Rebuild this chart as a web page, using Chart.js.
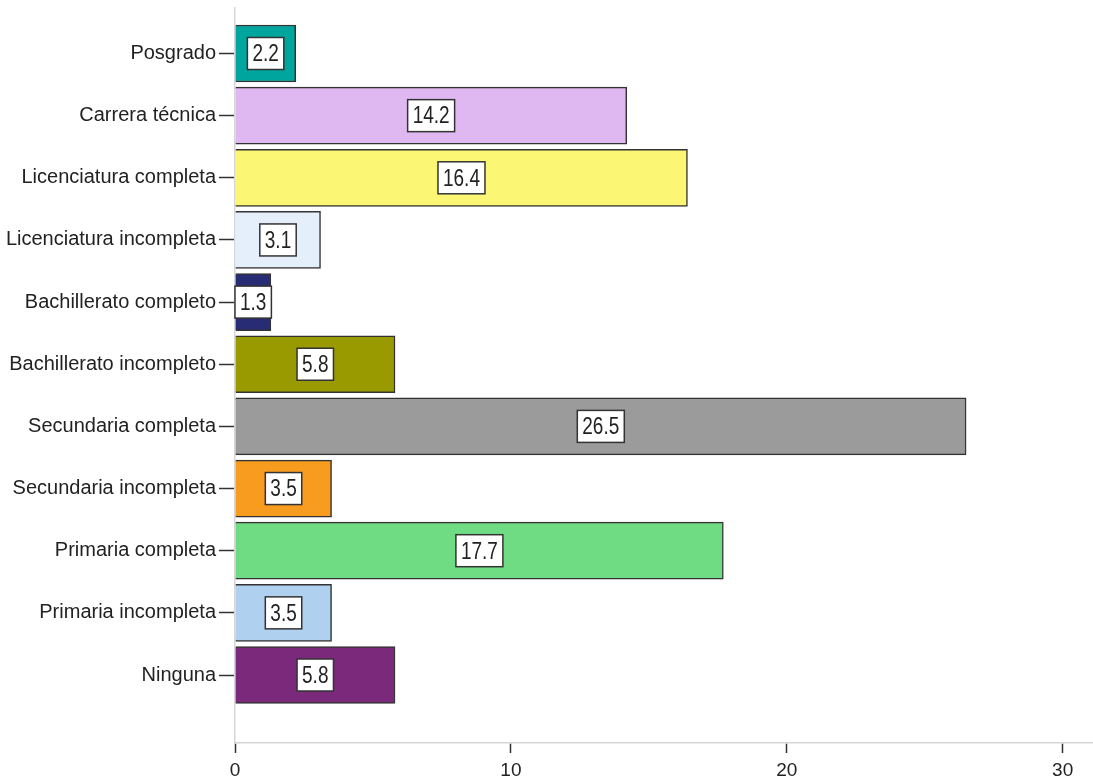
<!DOCTYPE html>
<html>
<head>
<meta charset="utf-8">
<script src="https://cdn.jsdelivr.net/npm/chart.js"></script>
<style>
    html, body { margin: 0; padding: 0; background: #fff; }
    #wrap { width: 1093px; height: 784px; }
</style>
</head>
<body>
<div id="wrap"><canvas id="nivelChart"></canvas></div>
<script>
// datos
const categorias = ['Posgrado', 'Carrera técnica', 'Licenciatura completa', 'Licenciatura incompleta',
    'Bachillerato completo', 'Bachillerato incompleto', 'Secundaria completa', 'Secundaria incompleta',
    'Primaria completa', 'Primaria incompleta', 'Ninguna'];
const porcentajes = [2.2, 14.2, 16.4, 3.1, 1.3, 5.8, 26.5, 3.5, 17.7, 3.5, 5.8];
const colores = ['#00a59e', '#dfb8f1', '#fbf673', '#e5effb', '#272c74', '#999a00',
    '#9b9b9b', '#f89c20', '#6fdc83', '#afd0ef', '#7b2a7b'];
const ticksX = [0, 10, 20, 30];

const fuente = "'Liberation Sans', Arial, sans-serif";

// etiquetas blancas con borde dentro de cada barra
const etiquetasBarras = {
    id: 'etiquetasBarras',
    afterDatasetsDraw(chart) {
        const ctx = chart.ctx;
        const meta = chart.getDatasetMeta(0);
        meta.data.forEach((bar, i) => {
            const texto = porcentajes[i].toFixed(1);
            const cx = (bar.base + bar.x) / 2;
            const cy = bar.y;
            ctx.save();
            ctx.font = '19px ' + fuente;
            const w = ctx.measureText(texto).width + 10;
            const h = 32;
            ctx.fillStyle = '#ffffff';
            ctx.fillRect(cx - w / 2, cy - h / 2, w, h);
            ctx.lineWidth = 1.5;
            ctx.strokeStyle = '#333333';
            ctx.strokeRect(cx - w / 2, cy - h / 2, w, h);
            ctx.fillStyle = '#222222';
            ctx.textAlign = 'center';
            ctx.textBaseline = 'middle';
            ctx.translate(cx, cy + 1);
            ctx.scale(1, 1.3);
            ctx.fillText(texto, 0, 0);
            ctx.restore();
        });
    }
};

const ctx = document.getElementById('nivelChart').getContext('2d');
const grafico = new Chart(ctx, {
    type: 'bar',
    data: {
        datasets: [{
            data: porcentajes.map((v, i) => ({ x: v, y: i })),
            backgroundColor: colores,
            borderColor: '#333333',
            borderWidth: 1.5,
            barThickness: 57
        }]
    },
    options: {
        indexAxis: 'y',
        responsive: true,
        maintainAspectRatio: false,
        animation: false,
        layout: { padding: { top: 8, right: 0, bottom: 0, left: 0 } },
        plugins: {
            legend: { display: false },
            tooltip: { enabled: false }
        },
        scales: {
            x: {
                type: 'linear',
                min: 0,
                max: 31.1,
                afterBuildTicks: (scale) => { scale.ticks = ticksX.map(v => ({ value: v })); },
                afterFit: (scale) => { scale.height = 41; },
                grid: { display: true, drawOnChartArea: false, drawTicks: true, tickLength: 10, tickColor: '#333', tickWidth: 1.5 },
                border: { display: true, color: '#d6d6d6', width: 1.5 },
                ticks: { color: '#222', font: { family: fuente, size: 19 }, padding: 6, maxRotation: 0 }
            },
            y: {
                type: 'linear',
                reverse: true,
                offset: false,
                min: -0.732,
                max: 11.094,
                afterBuildTicks: (scale) => { scale.ticks = categorias.map((c, i) => ({ value: i })); },
                afterFit: (scale) => {
                    scale.width = 235;
                    scale.paddingTop = 0;
                    scale.paddingBottom = 0;
                },
                grid: { display: true, offset: false, drawOnChartArea: false, drawTicks: true, tickLength: 16, tickColor: '#333', tickWidth: 1.5 },
                border: { display: true, color: '#d6d6d6', width: 1.5 },
                ticks: {
                    color: '#222',
                    font: { family: fuente, size: 20 },
                    padding: 3,
                    callback: (v) => categorias[v]
                }
            }
        }
    },
    plugins: [etiquetasBarras]
});
</script>
</body>
</html>
